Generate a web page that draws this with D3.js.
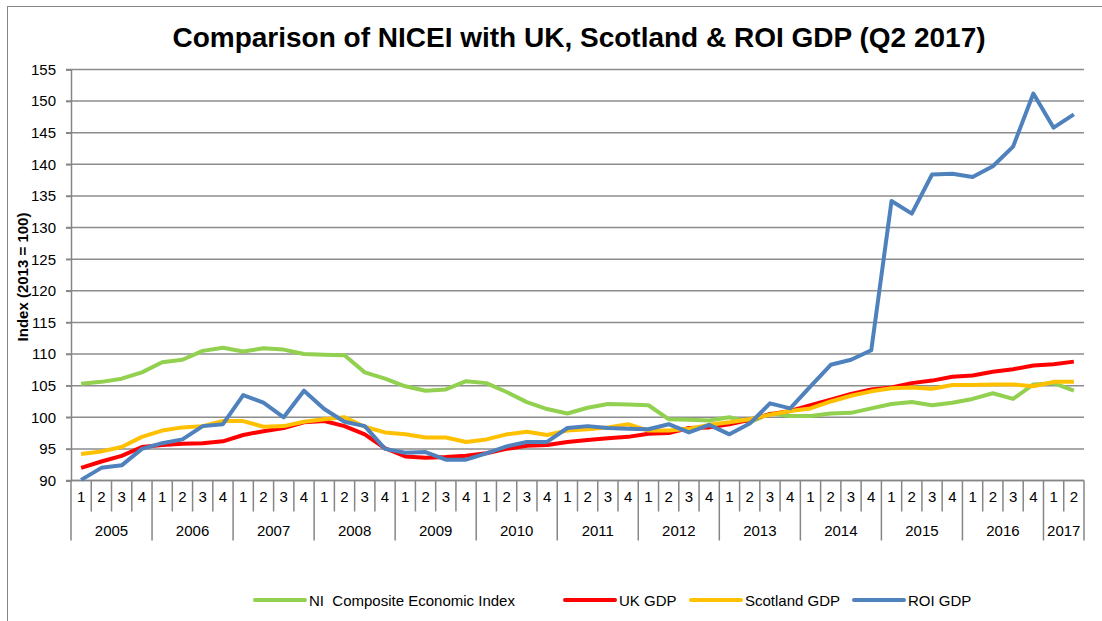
<!DOCTYPE html>
<html>
<head>
    <meta charset="utf-8">
    <title>Comparison of NICEI with UK, Scotland & ROI GDP</title>
    <style>
        body {
            margin: 0;
            background: #fff;
            font-family: "Liberation Sans", Arial, sans-serif;
        }
        svg { display: block; }
        .grid line { stroke: #8c8c8c; stroke-width: 1.5px; }
        .series { fill: none; stroke-width: 4px; stroke-linejoin: round; }
    </style>
</head>
<body>
    <script src="https://d3js.org/d3.v7.min.js"></script>
    <script>
        // Quarters from 2005 Q1 to 2017 Q2
        var years = ["2005", "2006", "2007", "2008", "2009", "2010", "2011", "2012", "2013", "2014", "2015", "2016", "2017"];
        var quarterLabels = ["1", "2", "3", "4"];
        var yTicks = [90, 95, 100, 105, 110, 115, 120, 125, 130, 135, 140, 145, 150, 155];

        var nicei = [105.3, 105.6, 106.1, 107.1, 108.7, 109.1, 110.5, 111.0, 110.4, 110.9, 110.7, 110.0,
                     109.9, 109.8, 107.1, 106.1, 104.9, 104.2, 104.4, 105.7, 105.4, 104.0, 102.4, 101.3,
                     100.6, 101.5, 102.1, 102.0, 101.9, 99.7, 99.6, 99.5, 100.0, 99.2, 100.6, 100.2,
                     100.2, 100.6, 100.7, 101.4, 102.1, 102.4, 101.9, 102.3, 102.9, 103.8, 102.9, 105.2,
                     105.4, 104.2];
        var ukGdp = [92.0, 93.0, 93.9, 95.3, 95.6, 95.8, 95.9, 96.2, 97.2, 97.8, 98.3, 99.2,
                     99.4, 98.6, 97.3, 95.1, 93.8, 93.6, 93.7, 93.9, 94.3, 95.0, 95.5, 95.6,
                     96.1, 96.4, 96.7, 96.9, 97.4, 97.5, 98.3, 98.4, 98.9, 99.6, 100.5, 101.0,
                     101.9, 102.8, 103.7, 104.4, 104.7, 105.4, 105.8, 106.4, 106.6, 107.2, 107.6, 108.2,
                     108.4, 108.8];
        var scotlandGdp = [94.2, 94.6, 95.3, 96.9, 97.9, 98.4, 98.6, 99.4, 99.4, 98.5, 98.6, 99.3,
                     99.7, 100.0, 98.5, 97.6, 97.3, 96.8, 96.8, 96.1, 96.5, 97.3, 97.7, 97.2,
                     97.9, 98.1, 98.4, 98.9, 97.9, 97.9, 98.2, 98.8, 99.2, 99.7, 100.4, 101.0,
                     101.4, 102.5, 103.4, 104.1, 104.6, 104.7, 104.5, 105.1, 105.1, 105.2, 105.2, 104.9,
                     105.6, 105.6];
        var roiGdp = [90.1, 92.0, 92.4, 95.0, 95.9, 96.5, 98.6, 98.9, 103.5, 102.3, 100.0, 104.2,
                     101.3, 99.3, 98.6, 95.0, 94.4, 94.5, 93.3, 93.3, 94.3, 95.4, 96.1, 96.1,
                     98.3, 98.6, 98.3, 98.2, 98.1, 98.9, 97.6, 98.8, 97.3, 99.0, 102.2, 101.4,
                     104.9, 108.3, 109.1, 110.6, 134.2, 132.2, 138.4, 138.5, 138.0, 139.7, 142.8, 151.2,
                     145.8, 147.9];

        var seriesNames = ["NI  Composite Economic Index", "UK GDP", "Scotland GDP", "ROI GDP"];
        var seriesColors = ["#92D050", "#FF0000", "#FFC000", "#4F81BD"];
        var seriesData = [nicei, ukGdp, scotlandGdp, roiGdp];

        // build quarter list
        var quarters = [];
        years.forEach(function(y) {
            quarterLabels.forEach(function(q) {
                if (quarters.length < nicei.length) quarters.push({ year: y, q: q, key: y + "Q" + q });
            });
        });

        var width = 1102, height = 621;
        var margin = { left: 71, right: 18, top: 69.5, bottom: 140.5 };

        var svg = d3.select("body").append("svg")
            .attr("width", width)
            .attr("height", height);

        // chart border
        svg.append("rect")
            .attr("x", 7.5).attr("y", 6.5)
            .attr("width", 1200).attr("height", 700)
            .attr("fill", "none")
            .attr("stroke", "#868686")
            .attr("stroke-width", 1);

        var x = d3.scaleBand()
            .domain(quarters.map(function(d) { return d.key; }))
            .range([margin.left, width - margin.right]);

        var y = d3.scaleLinear()
            .domain([90, 155])
            .range([height - margin.bottom, margin.top]);

        // title
        svg.append("text")
            .attr("x", 579).attr("y", 47)
            .attr("text-anchor", "middle")
            .style("font-size", "28px")
            .style("font-weight", "bold")
            .text("Comparison of NICEI with UK, Scotland & ROI GDP (Q2 2017)");

        // gridlines
        svg.append("g").attr("class", "grid")
            .selectAll("line")
            .data(yTicks)
            .enter().append("line")
            .attr("x1", margin.left - 5)
            .attr("x2", width - margin.right)
            .attr("y1", function(d) { return y(d); })
            .attr("y2", function(d) { return y(d); });

        // y axis
        var yAxis = svg.append("g")
            .attr("transform", "translate(" + margin.left + ",0)")
            .call(d3.axisLeft(y).tickValues(yTicks).tickSize(5).tickPadding(10));
        yAxis.select(".domain").attr("stroke", "#868686").attr("stroke-width", 1.5);
        yAxis.selectAll(".tick line").attr("stroke", "#868686").attr("stroke-width", 1.5);
        yAxis.selectAll("text")
            .style("font-size", "15px")
            .style("font-family", "Liberation Sans, Arial, sans-serif")
            .attr("fill", "#000");

        svg.append("text")
            .attr("transform", "translate(28," + 277 + ") rotate(-90)")
            .attr("text-anchor", "middle")
            .style("font-size", "15px")
            .style("font-weight", "bold")
            .text("Index (2013 = 100)");

        // x axis: quarters and years
        var axisY = y(90);
        var xg = svg.append("g");
        xg.append("line")
            .attr("x1", margin.left).attr("x2", width - margin.right)
            .attr("y1", axisY).attr("y2", axisY)
            .attr("stroke", "#868686").attr("stroke-width", 1.5);

        // quarter separators
        xg.selectAll(".qsep")
            .data(quarters)
            .enter().append("line")
            .attr("x1", function(d) { return x(d.key); })
            .attr("x2", function(d) { return x(d.key); })
            .attr("y1", axisY)
            .attr("y2", function(d) { return d.q === "1" ? axisY + 60 : axisY + 31; })
            .attr("stroke", "#868686").attr("stroke-width", 1.5);

        xg.append("line")
            .attr("x1", width - margin.right).attr("x2", width - margin.right)
            .attr("y1", axisY).attr("y2", axisY + 60)
            .attr("stroke", "#868686").attr("stroke-width", 1.5);

        xg.selectAll(".qlab")
            .data(quarters)
            .enter().append("text")
            .attr("x", function(d) { return x(d.key) + x.bandwidth() / 2; })
            .attr("y", axisY + 21)
            .attr("text-anchor", "middle")
            .style("font-size", "15px")
            .text(function(d) { return d.q; });

        xg.selectAll(".ylab")
            .data(years)
            .enter().append("text")
            .attr("x", function(yr) {
                var qs = quarters.filter(function(d) { return d.year === yr; });
                var x0 = x(qs[0].key), x1 = x(qs[qs.length - 1].key) + x.bandwidth();
                return (x0 + x1) / 2;
            })
            .attr("y", axisY + 55)
            .attr("text-anchor", "middle")
            .style("font-size", "15px")
            .text(function(yr) { return yr; });

        // series lines
        var line = d3.line()
            .x(function(d, i) { return x(quarters[i].key) + x.bandwidth() / 2; })
            .y(function(d) { return y(d); });

        seriesData.forEach(function(s, i) {
            svg.append("path")
                .attr("class", "series")
                .attr("d", line(s))
                .attr("stroke", seriesColors[i]);
        });

        // legend
        var legendX = [255, 565, 691, 854];
        var legend = svg.append("g");
        seriesNames.forEach(function(name, i) {
            legend.append("line")
                .attr("x1", legendX[i]).attr("x2", legendX[i] + 50)
                .attr("y1", 600).attr("y2", 600)
                .attr("stroke", seriesColors[i])
                .attr("stroke-width", 4)
                .attr("stroke-linecap", "round");
            legend.append("text")
                .attr("x", legendX[i] + 54)
                .attr("y", 605.5)
                .style("font-size", "15px")
                .style("white-space", "pre")
                .attr("xml:space", "preserve")
                .text(name);
        });
    </script>
</body>
</html>
